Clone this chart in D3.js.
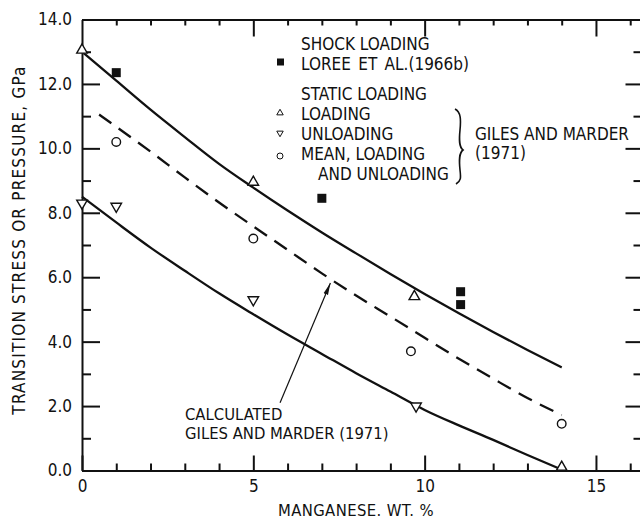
<!DOCTYPE html>
<html>
<head>
<meta charset="utf-8">
<script src="https://cdn.jsdelivr.net/npm/d3@7/dist/d3.min.js"></script>
<style>
  html, body { margin: 0; padding: 0; background: #fff; }
  svg { display: block; }
  text { font-family: "DejaVu Sans Condensed", "Liberation Sans Narrow", sans-serif; fill: #111; }
</style>
</head>
<body>
<svg id="chart" width="640" height="518"></svg>
<script>
// Shock loading, Loree et al. (1966b)
const shockMn = [1.0, 7.0, 11.05, 11.05];
const shockP  = [12.35, 8.45, 5.55, 5.15];

// Static loading, Giles and Marder (1971)
const loadMn   = [0.0, 5.0, 9.7, 14.0];
const loadP    = [13.05, 8.95, 5.4, 0.1];
const unloadMn = [0.0, 1.0, 5.0, 9.75];
const unloadP  = [8.3, 8.2, 5.3, 2.0];
const meanMn   = [1.0, 5.0, 9.6, 14.0];
const meanP    = [10.2, 7.2, 3.7, 1.45];

// Bounding curves (solid) and calculated curve (dashed)
const curveMn  = [0, 1, 2, 3, 4, 5, 6, 7, 8, 9, 10, 11, 12, 13, 14];
const upperP   = [13.0, 12.1, 11.2, 10.35, 9.52, 8.78, 8.07, 7.39, 6.74, 6.1, 5.48, 4.88, 4.3, 3.74, 3.2];
const lowerP   = [8.5, 7.7, 6.92, 6.2, 5.5, 4.85, 4.22, 3.62, 3.02, 2.45, 1.88, 1.4, 0.95, 0.48, 0.03];
const calcMn   = [0.5, 1, 2, 3, 4, 5, 6, 7, 8, 9, 10, 11, 12, 13, 14];
const calcP    = [11.05, 10.67, 9.9, 9.1, 8.32, 7.58, 6.85, 6.12, 5.43, 4.78, 4.12, 3.47, 2.85, 2.25, 1.72];

// Axis ticks
const yMajor = [0, 2, 4, 6, 8, 10, 12, 14];
const yMinor = [1, 3, 5, 7, 9, 11, 13];
const yLabels = ["0.0", "2.0", "4.0", "6.0", "8.0", "10.0", "12.0", "14.0"];
const xMajor = [0, 5, 10, 15];
const xMinor = [1, 2, 3, 4, 6, 7, 8, 9, 11, 12, 13, 14, 16];
const xLabels = ["0", "5", "10", "15"];

const svg = d3.select("#chart");
const x = d3.scaleLinear().domain([0, 16.3]).range([82, 640.5]);
const y = d3.scaleLinear().domain([0, 14]).range([470.5, 19.5]);

const axisStroke = g => {
  g.selectAll("path.domain").attr("stroke", "#111").attr("stroke-width", 2);
  g.selectAll(".tick line").attr("stroke", "#111").attr("stroke-width", 2);
};

// Left axis
svg.append("g").attr("transform", `translate(${x(0)},0)`)
  .call(d3.axisLeft(y).tickValues(yMajor).tickSizeInner(-18).tickSizeOuter(0).tickPadding(10)
    .tickFormat((d, i) => yLabels[i]))
  .call(axisStroke)
  .call(g => g.selectAll("text").attr("font-size", 17).attr("font-family", null));
svg.append("g").attr("transform", `translate(${x(0)},0)`)
  .call(d3.axisLeft(y).tickValues(yMinor).tickSizeInner(-9).tickSizeOuter(0).tickFormat(""))
  .call(axisStroke).call(g => g.select("path.domain").remove());

// Right axis (spine falls just past the edge, ticks point inward)
svg.append("g").attr("transform", `translate(${x(16.3)},0)`)
  .call(d3.axisRight(y).tickValues(yMajor).tickSizeInner(-15).tickSizeOuter(0).tickFormat(""))
  .call(axisStroke);
svg.append("g").attr("transform", `translate(${x(16.3)},0)`)
  .call(d3.axisRight(y).tickValues(yMinor).tickSizeInner(-7).tickSizeOuter(0).tickFormat(""))
  .call(axisStroke).call(g => g.select("path.domain").remove());

// Bottom axis
svg.append("g").attr("transform", `translate(0,${y(0)})`)
  .call(d3.axisBottom(x).tickValues(xMajor).tickSizeInner(-15).tickSizeOuter(0).tickPadding(9)
    .tickFormat((d, i) => xLabels[i]))
  .call(axisStroke)
  .call(g => g.selectAll("text").attr("font-size", 17).attr("font-family", null));
svg.append("g").attr("transform", `translate(0,${y(0)})`)
  .call(d3.axisBottom(x).tickValues(xMinor).tickSizeInner(-7).tickSizeOuter(0).tickFormat(""))
  .call(axisStroke).call(g => g.select("path.domain").remove());

// Top axis
svg.append("g").attr("transform", `translate(0,${y(14)})`)
  .call(d3.axisTop(x).tickValues(xMajor.slice(1)).tickSizeInner(-17).tickSizeOuter(0).tickFormat(""))
  .call(axisStroke);
svg.append("g").attr("transform", `translate(0,${y(14)})`)
  .call(d3.axisTop(x).tickValues(xMinor).tickSizeInner(-6).tickSizeOuter(0).tickFormat(""))
  .call(axisStroke).call(g => g.select("path.domain").remove());

// Axis titles
svg.append("text")
  .attr("transform", `translate(25,240) rotate(-90)`)
  .attr("text-anchor", "middle").attr("font-size", 17).attr("letter-spacing", 1.2)
  .text("TRANSITION STRESS OR PRESSURE, GPa");
svg.append("text")
  .attr("x", 356).attr("y", 515.5)
  .attr("text-anchor", "middle").attr("font-size", 16.5).attr("letter-spacing", 0.4)
  .text("MANGANESE. WT. %");

// Curves
const line = d3.line().x(d => x(d[0])).y(d => y(d[1])).curve(d3.curveMonotoneX);
const curveGroup = svg.append("g").attr("fill", "none").attr("stroke", "#111").attr("stroke-width", 2.3);
curveGroup.append("path").attr("d", line(curveMn.map((m, i) => [m, upperP[i]])));
curveGroup.append("path").attr("d", line(curveMn.map((m, i) => [m, lowerP[i]])));
curveGroup.append("path").attr("d", line(calcMn.map((m, i) => [m, calcP[i]])))
  .attr("stroke-dasharray", "15,9");

// Markers
const tri = d3.symbol().type(d3.symbolTriangle);
const markers = svg.append("g");
markers.selectAll(".shock").data(shockMn).join("rect")
  .attr("x", (d, i) => x(d) - 4.5).attr("y", (d, i) => y(shockP[i]) - 4.5)
  .attr("width", 9).attr("height", 9).attr("fill", "#111");
markers.selectAll(".load").data(loadMn).join("path")
  .attr("d", tri.size(48)())
  .attr("transform", (d, i) => `translate(${x(d)},${y(loadP[i])})`)
  .attr("fill", "#fff").attr("stroke", "#111").attr("stroke-width", 1.4);
markers.selectAll(".unload").data(unloadMn).join("path")
  .attr("d", tri.size(48)())
  .attr("transform", (d, i) => `translate(${x(d)},${y(unloadP[i])}) rotate(180)`)
  .attr("fill", "#fff").attr("stroke", "#111").attr("stroke-width", 1.4);
markers.selectAll(".mean").data(meanMn).join("circle")
  .attr("cx", d => x(d)).attr("cy", (d, i) => y(meanP[i])).attr("r", 4.3)
  .attr("fill", "#fff").attr("stroke", "#111").attr("stroke-width", 1.4);

// Legend
const lg = svg.append("g").attr("font-size", 17);
lg.append("text").attr("x", 301).attr("y", 49.5).text("SHOCK LOADING");
lg.append("rect").attr("x", 277).attr("y", 58.5).attr("width", 7).attr("height", 7).attr("fill", "#111");
lg.append("text").attr("x", 301).attr("y", 69.5).attr("word-spacing", 2.5).text("LOREE ET AL.(1966b)");
lg.append("text").attr("x", 301).attr("y", 100).text("STATIC LOADING");
lg.append("path").attr("d", tri.size(18)()).attr("transform", "translate(280,113)")
  .attr("fill", "none").attr("stroke", "#111").attr("stroke-width", 1);
lg.append("text").attr("x", 301).attr("y", 119.5).text("LOADING");
lg.append("path").attr("d", tri.size(18)()).attr("transform", "translate(280,133) rotate(180)")
  .attr("fill", "none").attr("stroke", "#111").attr("stroke-width", 1);
lg.append("text").attr("x", 301).attr("y", 139.5).text("UNLOADING");
lg.append("circle").attr("cx", 280).attr("cy", 156).attr("r", 3)
  .attr("fill", "none").attr("stroke", "#111").attr("stroke-width", 1);
lg.append("text").attr("x", 301).attr("y", 159.5).text("MEAN, LOADING");
lg.append("text").attr("x", 318).attr("y", 179.5).text("AND UNLOADING");
lg.append("path")
  .attr("d", "M455,109 C461,112 461,120 460,130 C459,140 459,147 463,150 C459,153 459,160 460,170 C461,178 461,181 456,184")
  .attr("fill", "none").attr("stroke", "#111").attr("stroke-width", 1.6);
lg.append("text").attr("x", 475).attr("y", 139.5).text("GILES AND MARDER");
lg.append("text").attr("x", 475).attr("y", 159).text("(1971)");

// Annotation for the calculated curve
const arrowTail = [5.78, 2.1];
const arrowTip = [7.25, 5.82];
svg.append("defs").append("marker")
  .attr("id", "head").attr("viewBox", "0 0 12 6").attr("refX", 12).attr("refY", 3)
  .attr("markerWidth", 12).attr("markerHeight", 6).attr("markerUnits", "userSpaceOnUse")
  .attr("orient", "auto")
  .append("path").attr("d", "M0,0.6 L12,3 L0,5.4 Z").attr("fill", "#111");
svg.append("line")
  .attr("x1", x(arrowTail[0])).attr("y1", y(arrowTail[1]))
  .attr("x2", x(arrowTip[0])).attr("y2", y(arrowTip[1]))
  .attr("stroke", "#111").attr("stroke-width", 1.2).attr("marker-end", "url(#head)");
const ann = svg.append("g").attr("font-size", 16.5);
ann.append("text").attr("x", 185).attr("y", 420).text("CALCULATED");
ann.append("text").attr("x", 185).attr("y", 439).text("GILES AND MARDER (1971)");
</script>
</body>
</html>
